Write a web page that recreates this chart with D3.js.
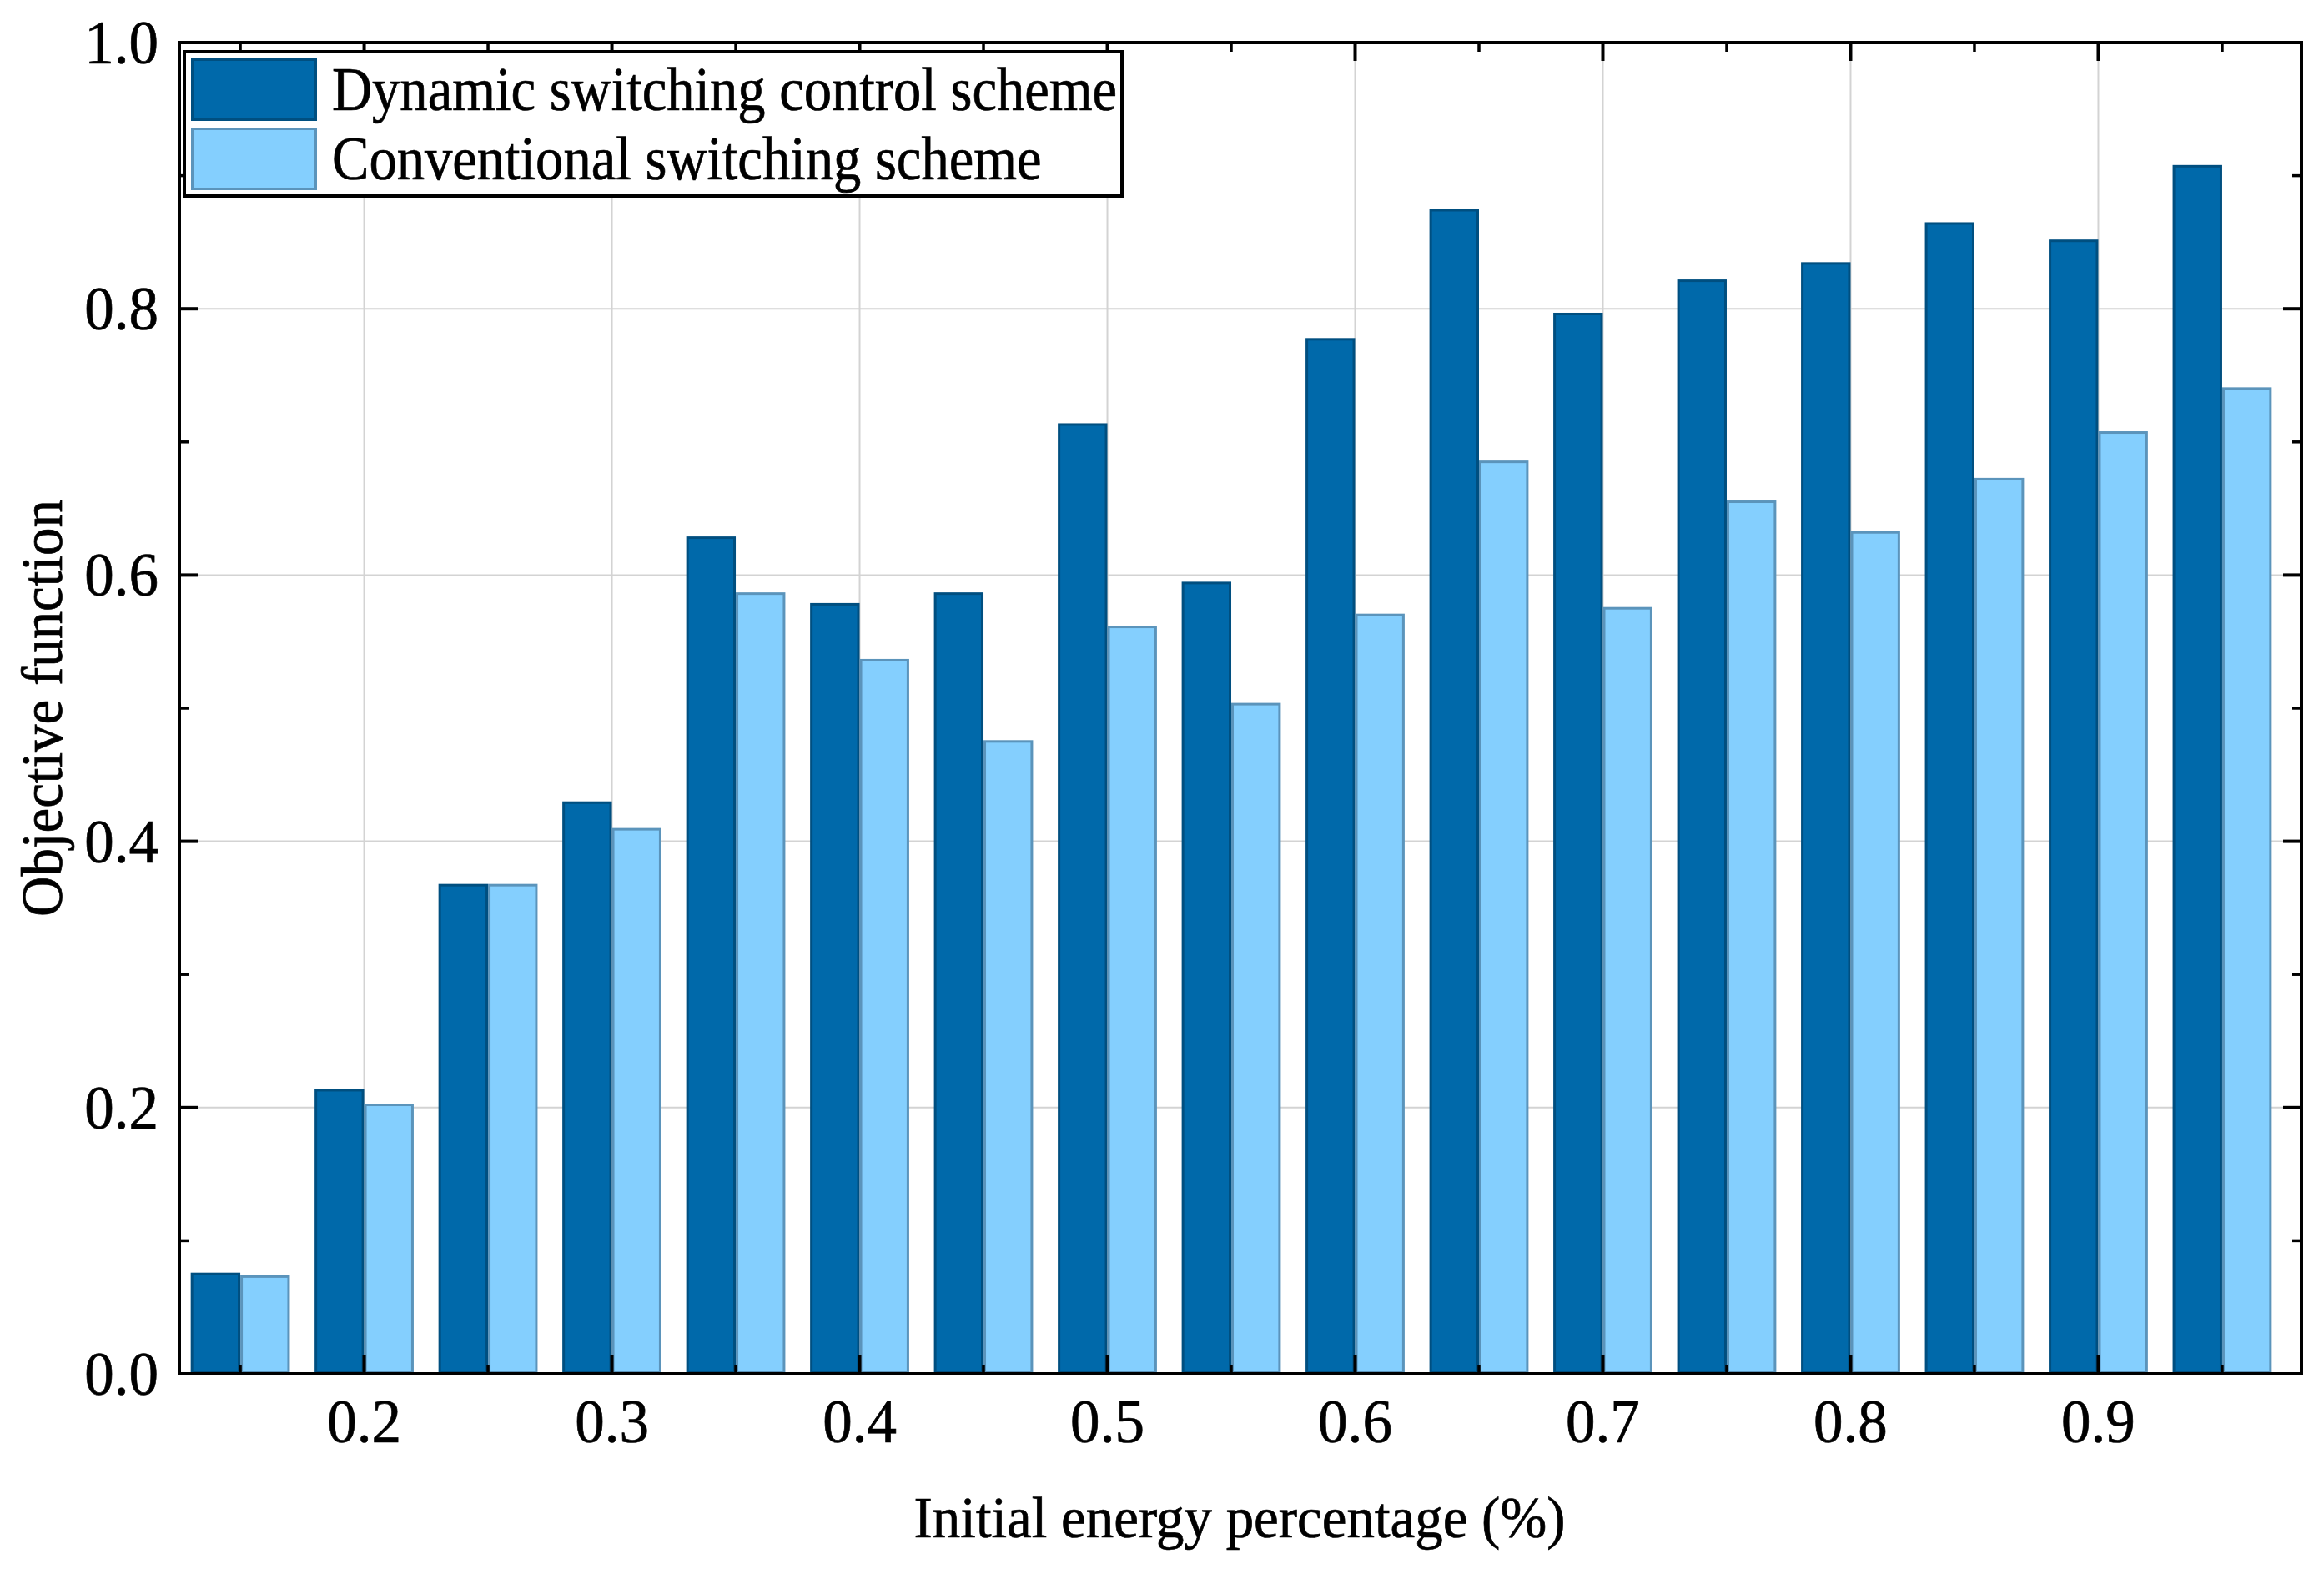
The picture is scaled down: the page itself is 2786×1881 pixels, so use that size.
<!DOCTYPE html>
<html>
<head>
<meta charset="utf-8">
<script src="https://cdn.jsdelivr.net/npm/d3@7/dist/d3.min.js"></script>
<style>
  html, body { margin: 0; padding: 0; background: #fff; }
  svg { display: block; }
  text { font-family: "Liberation Serif", "Times New Roman", serif; fill: #000; stroke: #000; stroke-width: 0.7; }
</style>
</head>
<body>
<svg id="chart" width="2786" height="1881"></svg>
<script>
// ---- data ----
const categories = [0.15, 0.20, 0.25, 0.30, 0.35, 0.40, 0.45, 0.50, 0.55, 0.60, 0.65, 0.70, 0.75, 0.80, 0.85, 0.90, 0.95];
const dynamicValues = [0.076, 0.214, 0.368, 0.430, 0.629, 0.579, 0.587, 0.714, 0.595, 0.778, 0.875, 0.797, 0.822, 0.835, 0.865, 0.852, 0.908];
const conventionalValues = [0.074, 0.203, 0.368, 0.410, 0.587, 0.537, 0.476, 0.562, 0.504, 0.571, 0.686, 0.576, 0.656, 0.633, 0.673, 0.708, 0.741];
const seriesNames = ["Dynamic switching control scheme", "Conventional switching scheme"];
const xMajorTicks = [0.2, 0.3, 0.4, 0.5, 0.6, 0.7, 0.8, 0.9];
const xMinorTicks = [0.15, 0.25, 0.35, 0.45, 0.55, 0.65, 0.75, 0.85, 0.95];
const yMajorTicks = [0.0, 0.2, 0.4, 0.6, 0.8, 1.0];
const yMinorTicks = [0.1, 0.3, 0.5, 0.7, 0.9];
const xTitle = "Initial energy percentage (%)";
const yTitle = "Objective function";

// ---- layout ----
const L = 215, R = 2759, T = 51, B = 1647;
const barW = 0.02;
const fills = ["#0069aa", "#84cffe"];
const strokes = ["#004f80", "#5b94bb"];
const sxTick = 0.96, sxTitle = 0.956;

const svg = d3.select("#chart");
const x = d3.scaleLinear().domain([0.1254, 0.982]).range([L, R]);
const y = d3.scaleLinear().domain([0, 1]).range([B, T]);

// grid
const grid = svg.append("g").attr("stroke", "#d3d3d3").attr("stroke-width", 2);
grid.selectAll("line.vx").data(xMajorTicks).join("line")
  .attr("x1", d => x(d)).attr("x2", d => x(d)).attr("y1", T).attr("y2", B);
grid.selectAll("line.hy").data(yMajorTicks.filter(d => d > 0 && d < 1)).join("line")
  .attr("x1", L).attr("x2", R).attr("y1", d => y(d)).attr("y2", d => y(d));

// bars
const bars = svg.append("g");
bars.selectAll("rect.dyn").data(categories).join("rect")
  .attr("x", d => x(d - barW) + 1.5)
  .attr("width", d => x(d) - x(d - barW) - 3)
  .attr("y", (d, i) => y(dynamicValues[i]) + 1.5)
  .attr("height", (d, i) => y(0) - y(dynamicValues[i]) - 3)
  .attr("fill", fills[0]).attr("stroke", strokes[0]).attr("stroke-width", 3);
bars.selectAll("rect.conv").data(categories).join("rect")
  .attr("x", d => x(d) + 1.5)
  .attr("width", d => x(d + barW) - x(d) - 3)
  .attr("y", (d, i) => y(conventionalValues[i]) + 1.5)
  .attr("height", (d, i) => y(0) - y(conventionalValues[i]) - 3)
  .attr("fill", fills[1]).attr("stroke", strokes[1]).attr("stroke-width", 3);

// ticks (inward on all four sides)
const ticks = svg.append("g").attr("stroke", "#000");
const majLen = 22, minLen = 11;
function vTicks(vals, len, w) {
  ticks.append("g").selectAll("line").data(vals).join("line")
    .attr("x1", d => x(d)).attr("x2", d => x(d)).attr("y1", B).attr("y2", B - len).attr("stroke-width", w);
  ticks.append("g").selectAll("line").data(vals).join("line")
    .attr("x1", d => x(d)).attr("x2", d => x(d)).attr("y1", T).attr("y2", T + len).attr("stroke-width", w);
}
function hTicks(vals, len, w) {
  ticks.append("g").selectAll("line").data(vals).join("line")
    .attr("x1", L).attr("x2", L + len).attr("y1", d => y(d)).attr("y2", d => y(d)).attr("stroke-width", w);
  ticks.append("g").selectAll("line").data(vals).join("line")
    .attr("x1", R).attr("x2", R - len).attr("y1", d => y(d)).attr("y2", d => y(d)).attr("stroke-width", w);
}
vTicks(xMajorTicks, majLen, 4);
vTicks(xMinorTicks, minLen, 3.5);
hTicks(yMajorTicks, majLen, 4);
hTicks(yMinorTicks, minLen, 3.5);

// frame
svg.append("rect").attr("x", L).attr("y", T).attr("width", R - L).attr("height", B - T)
  .attr("fill", "none").attr("stroke", "#000").attr("stroke-width", 4);

// tick labels
const fs = 74;
svg.append("g").selectAll("text").data(yMajorTicks).join("text")
  .attr("transform", d => `translate(190,${y(d)}) scale(${sxTick},1)`)
  .attr("text-anchor", "end").attr("dominant-baseline", "central")
  .attr("font-size", fs).text(d => d.toFixed(1));
svg.append("g").selectAll("text").data(xMajorTicks).join("text")
  .attr("transform", d => `translate(${x(d)},1729) scale(${sxTick},1)`)
  .attr("text-anchor", "middle")
  .attr("font-size", fs).text(d => d.toFixed(1));

// axis titles
svg.append("text").attr("transform", `translate(1486,1843) scale(${sxTitle},1)`)
  .attr("text-anchor", "middle").attr("font-size", 70).text(xTitle);
svg.append("text").attr("transform", `translate(50,${(T + B) / 2}) rotate(-90) scale(${sxTitle},1)`)
  .attr("text-anchor", "middle").attr("dominant-baseline", "central").attr("font-size", 70).text(yTitle);

// legend
const lg = svg.append("g");
lg.append("rect").attr("x", 221).attr("y", 62).attr("width", 1345 - 221).attr("height", 235 - 62)
  .attr("fill", "#fff").attr("stroke", "#000").attr("stroke-width", 4);
const swY = [70, 153];
seriesNames.forEach((name, i) => {
  lg.append("rect").attr("x", 230.5).attr("y", swY[i] + 1.5).attr("width", 148).attr("height", 72)
    .attr("fill", fills[i]).attr("stroke", strokes[i]).attr("stroke-width", 3);
  lg.append("text").attr("transform", `translate(398,${swY[i] + 37}) scale(0.9,1)`)
    .attr("dominant-baseline", "central").attr("font-size", 74).text(name);
});
</script>
</body>
</html>
